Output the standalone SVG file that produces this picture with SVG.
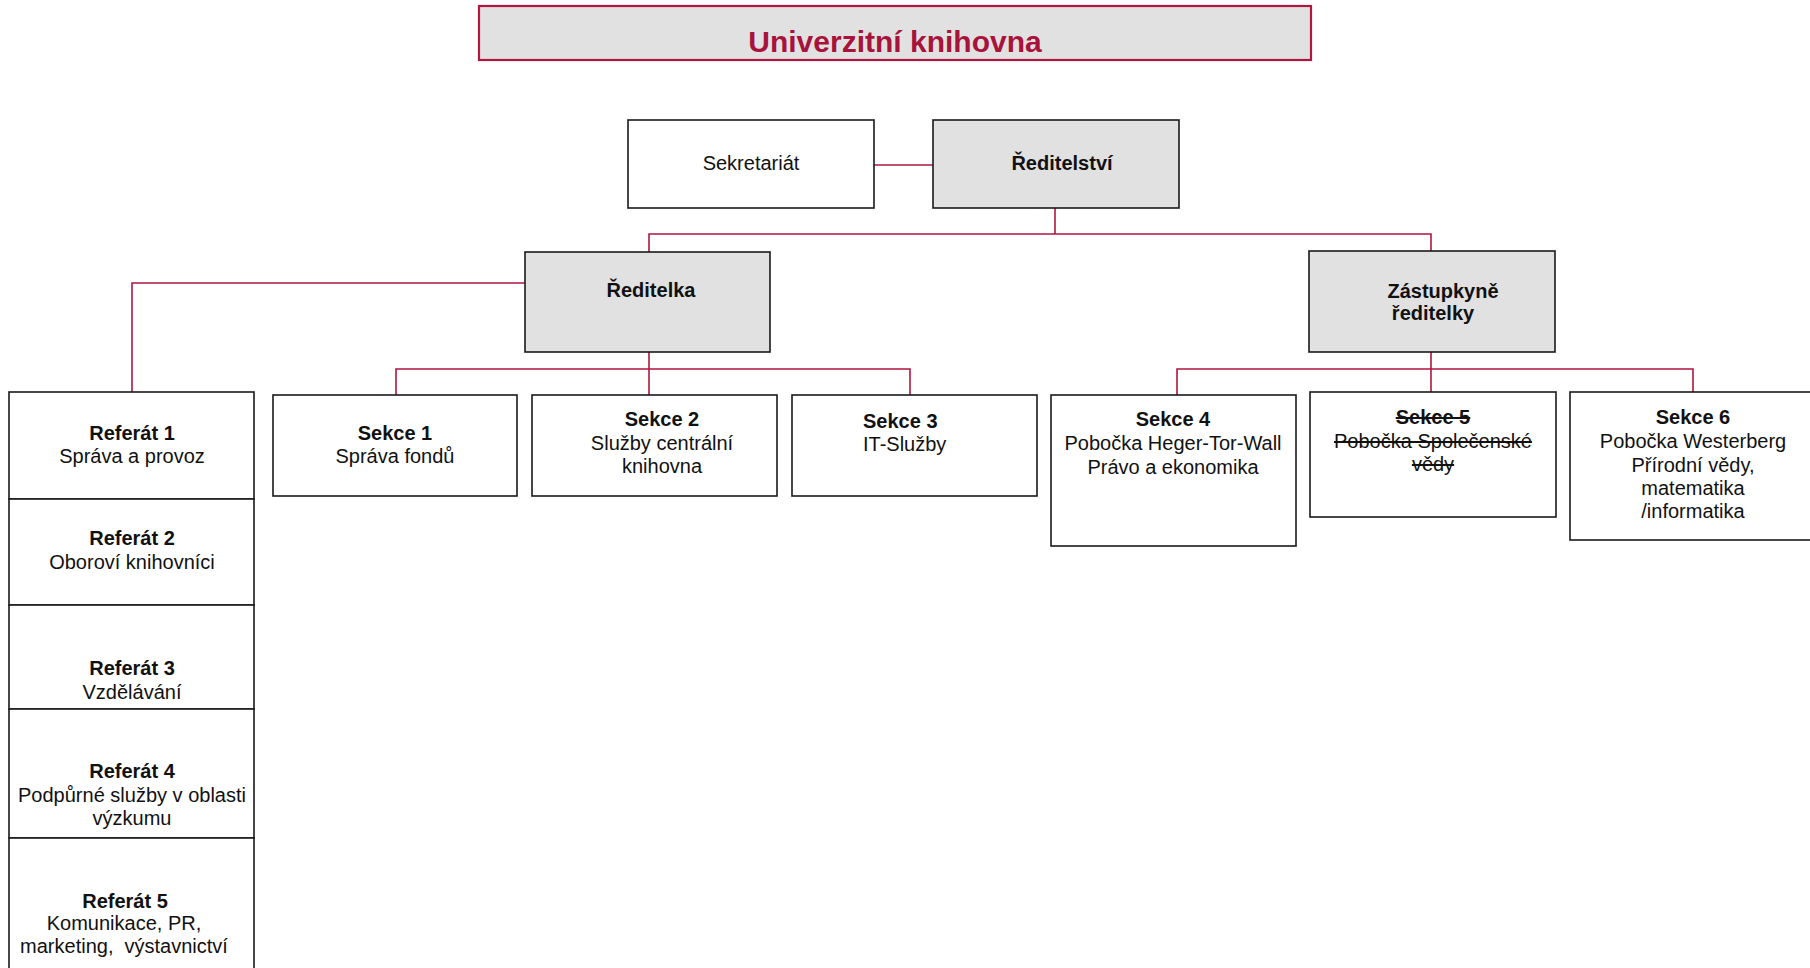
<svg xmlns="http://www.w3.org/2000/svg" width="1810" height="968" viewBox="0 0 1810 968">
<style>
.box{fill:#ffffff;stroke:#1a1a1a;stroke-width:1.6}
.grey{fill:#e1e1e1;stroke:#1a1a1a;stroke-width:1.6}
.t{font-family:"Liberation Sans",Arial,sans-serif;font-size:20px;fill:#111111;text-anchor:middle}
.b{font-weight:bold}
.l{text-anchor:start}
.con{fill:none;stroke:#b0163f;stroke-width:1.6}
</style>
<rect width="1810" height="968" fill="#ffffff"/>
<g id="connectors">
<path class="con" d="M874,165 H933"/>
<path class="con" d="M1055,208 V234 M649,252 V234 H1431 V251"/>
<path class="con" d="M525,283 H132 V392"/>
<path class="con" d="M649,352 V369 M396,395 V369 H910 V395 M649,369 V395"/>
<path class="con" d="M1431,352 V392 M1177,395 V369 H1693 V392"/>
</g>
<g id="title">
<rect x="479" y="6" width="832" height="54" fill="#e1e1e1" stroke="#b0163f" stroke-width="2.2"/>
<text x="895" y="52" font-family="'Liberation Sans',Arial,sans-serif" font-size="30" font-weight="bold" fill="#a8133b" text-anchor="middle">Univerzitní knihovna</text>
</g>
<g id="sekretariat">
<rect class="box" x="628" y="120" width="246" height="88"/>
<text class="t" x="751" y="170">Sekretariát</text>
</g>
<g id="reditelstvi">
<rect class="grey" x="933" y="120" width="246" height="88"/>
<text class="t b" x="1062" y="170">Ředitelství</text>
</g>
<g id="reditelka">
<rect class="grey" x="525" y="252" width="245" height="100"/>
<text class="t b" x="651" y="297">Ředitelka</text>
</g>
<g id="zastupkyne">
<rect class="grey" x="1309" y="251" width="246" height="101"/>
<text class="t b" x="1443" y="298">Zástupkyně</text>
<text class="t b" x="1433" y="320">ředitelky</text>
</g>
<g id="sekce1">
<rect class="box" x="273" y="395" width="244" height="101"/>
<text class="t b" x="395" y="440">Sekce 1</text>
<text class="t" x="395" y="463">Správa fondů</text>
</g>
<g id="sekce2">
<rect class="box" x="532" y="395" width="245" height="101"/>
<text class="t b" x="662" y="426">Sekce 2</text>
<text class="t" x="662" y="450">Služby centrální</text>
<text class="t" x="662" y="473">knihovna</text>
</g>
<g id="sekce3">
<rect class="box" x="792" y="395" width="245" height="101"/>
<text class="t b l" x="863" y="428">Sekce 3</text>
<text class="t l" x="863" y="451">IT-Služby</text>
</g>
<g id="sekce4">
<rect class="box" x="1051" y="395" width="245" height="151"/>
<text class="t b" x="1173" y="426">Sekce 4</text>
<text class="t" x="1173" y="450">Pobočka Heger-Tor-Wall</text>
<text class="t" x="1173" y="474">Právo a ekonomika</text>
</g>
<g id="sekce5">
<rect class="box" x="1310" y="392" width="246" height="125"/>
<text class="t b" x="1433" y="424" text-decoration="line-through">Sekce 5</text>
<text class="t" x="1433" y="448" text-decoration="line-through">Pobočka Společenské</text>
<text class="t" x="1433" y="471" text-decoration="line-through">vědy</text>
</g>
<g id="sekce6">
<rect class="box" x="1570" y="392" width="250" height="148"/>
<text class="t b" x="1693" y="424">Sekce 6</text>
<text class="t" x="1693" y="448">Pobočka Westerberg</text>
<text class="t" x="1693" y="472">Přírodní vědy,</text>
<text class="t" x="1693" y="495">matematika</text>
<text class="t" x="1693" y="518">/informatika</text>
</g>
<g id="referat1">
<rect class="box" x="9" y="392" width="245" height="107"/>
<text class="t b" x="132" y="440">Referát 1</text>
<text class="t" x="132" y="463">Správa a provoz</text>
</g>
<g id="referat2">
<rect class="box" x="9" y="499" width="245" height="106"/>
<text class="t b" x="132" y="545">Referát 2</text>
<text class="t" x="132" y="569">Oboroví knihovníci</text>
</g>
<g id="referat3">
<rect class="box" x="9" y="605" width="245" height="104"/>
<text class="t b" x="132" y="675">Referát 3</text>
<text class="t" x="132" y="699">Vzdělávání</text>
</g>
<g id="referat4">
<rect class="box" x="9" y="709" width="245" height="129"/>
<text class="t b" x="132" y="778">Referát 4</text>
<text class="t" x="132" y="802">Podpůrné služby v oblasti</text>
<text class="t" x="132" y="825">výzkumu</text>
</g>
<g id="referat5">
<rect class="box" x="9" y="838" width="245" height="140"/>
<text class="t b" x="125" y="908">Referát 5</text>
<text class="t" x="124" y="930">Komunikace, PR,</text>
<text class="t" x="124" y="953">marketing,&#160; výstavnictví</text>
</g>
</svg>
